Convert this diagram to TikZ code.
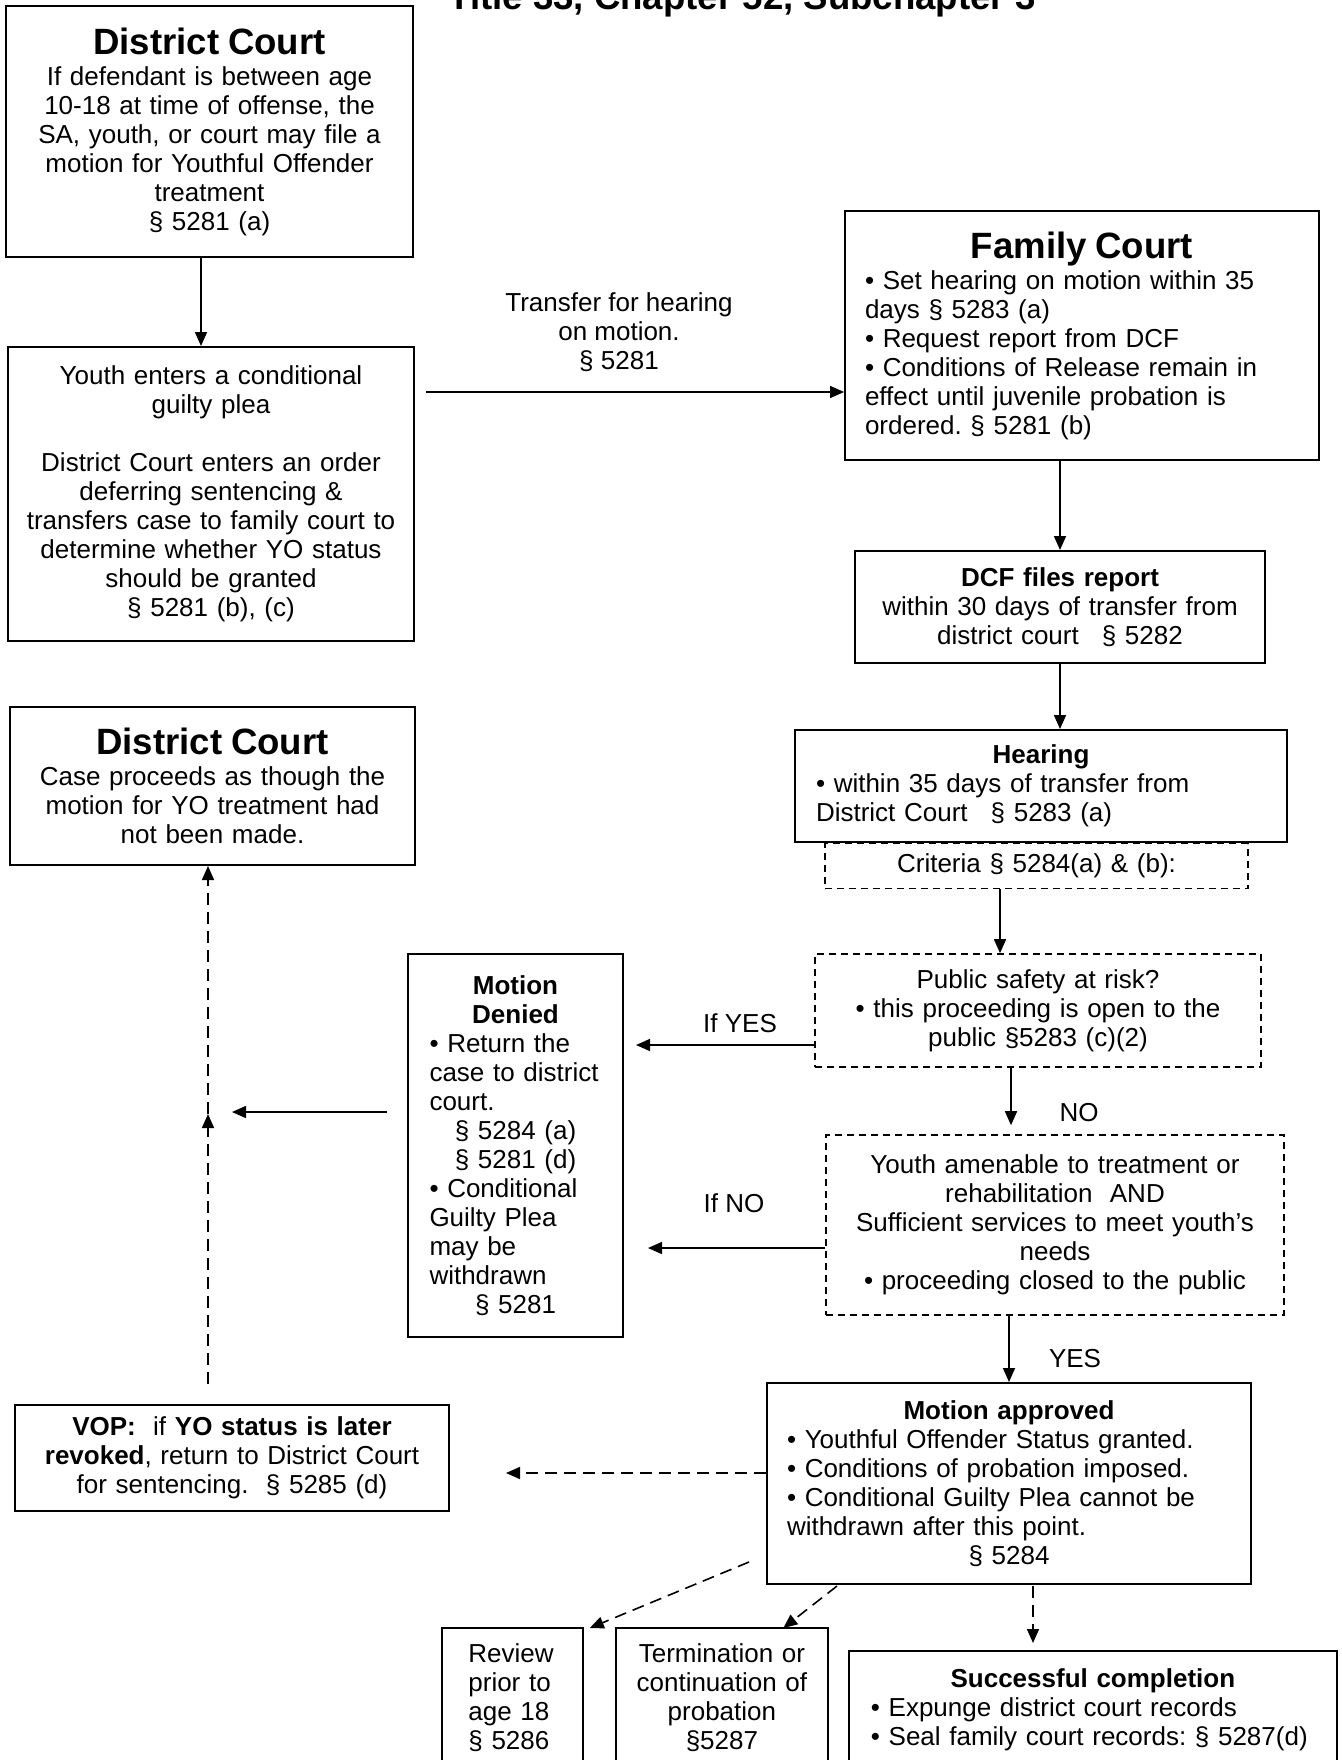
\documentclass[tikz,border=0pt]{standalone}
\usepackage{fontspec}
\setmainfont{Liberation Sans}
\usetikzlibrary{arrows.meta,calc}
\newcommand\bodyfont{\fontsize{13}{14.5}\selectfont}
\newcommand\headfont{\fontsize{18.3}{20}\selectfont\bfseries}
\newcommand\ctrline[1]{\makebox[\linewidth][c]{#1}}
\tikzset{
  box/.style={draw, line width=1pt, inner sep=0pt, align=center, font=\bodyfont},
  dbox/.style={box, line width=0.8pt, dash pattern=on 3.5pt off 2.5pt},
  open/.style={inner sep=0pt, font=\bodyfont},
  frame/.style={line width=1pt},
  lbl/.style={inner sep=0pt, align=center, font=\bodyfont},
  arr/.style={-{Triangle[length=7pt,width=6pt]}, line width=0.8pt},
  darr/.style={arr, dash pattern=on 6pt off 3.5pt},
}
\begin{document}
\frenchspacing
% pixel grid: x to the right, y downward
\begin{tikzpicture}[x=0.5pt,y=-0.5pt]
\useasboundingbox (0,0) rectangle (1341,1760);

\node[font=\headfont, anchor=base, inner sep=0pt] (title) at (742,10) {Title 33, Chapter 52, Subchapter 3};

% ---------- left column ----------
\node[box, minimum width=203.5pt, minimum height=125.5pt, text width=195pt] (dc1) at (209.5,131.5)
  {{\headfont District Court}\\[1pt]If defendant is between age\\10-18 at time of offense, the\\SA, youth, or court may file a\\motion for Youthful Offender\\treatment\\§ 5281 (a)};

\node[box, minimum width=203pt, minimum height=147pt, text width=197pt] (youth) at (211,494)
  {Youth enters a conditional\\guilty plea\\[14.5pt]District Court enters an order\\deferring sentencing \&\\transfers case to family court to\\determine whether YO status\\should be granted\\§ 5281 (b), (c)};

\node[box, minimum width=202.5pt, minimum height=79pt, text width=195pt] (dc2) at (212.5,786)
  {{\headfont District Court}\\[1pt]Case proceeds as though the\\motion for YO treatment had\\not been made.};

\node[box, minimum width=217pt, minimum height=53pt, text width=210pt] (vop) at (232,1458)
  {\textbf{VOP:}\ \ if \textbf{YO status is later}\\\textbf{revoked}, return to District Court\\for sentencing.\ \ § 5285 (d)};

\node[box, align=left, minimum width=107.5pt, minimum height=191.5pt, text width=86pt, inner xsep=10.75pt] (den) at (515.5,1145.5)
  {\ctrline{\textbf{Motion}}\\\ctrline{\textbf{Denied}}\\• Return the\\case to district\\court.\\\ctrline{§ 5284 (a)}\\\ctrline{§ 5281 (d)}\\• Conditional\\Guilty Plea\\may be\\withdrawn\\\ctrline{§ 5281}};

% ---------- right column ----------
\node[box, align=left, minimum width=237pt, minimum height=124.5pt, text width=217pt, inner xsep=10pt] (fam) at (1082,335.5)
  {\ctrline{\headfont Family Court}\\[1pt]• Set hearing on motion within 35\\days § 5283 (a)\\• Request report from DCF\\• Conditions of Release remain in\\effect until juvenile probation is\\ordered. § 5281 (b)};

\node[box, minimum width=205pt, minimum height=56pt, text width=195pt] (dcf) at (1060,607)
  {\textbf{DCF files report}\\within 30 days of transfer from\\district court\hspace{11.5pt}§ 5282};

\node[box, align=left, minimum width=246pt, minimum height=56pt, text width=225pt, inner xsep=10.5pt] (hear) at (1041,786)
  {\ctrline{\textbf{Hearing}}\\• within 35 days of transfer from\\District Court\hspace{11.5pt}§ 5283 (a)};

\node[dbox, minimum width=211.5pt, minimum height=22.5pt, text width=205pt] (crit) at (1036.5,866)
  {Criteria § 5284(a) \& (b):};

\node[dbox, minimum width=223pt, minimum height=56.5pt, text width=215pt] (pub) at (1038,1010.5)
  {Public safety at risk?\\• this proceeding is open to the\\public §5283 (c)(2)};

\node[dbox, minimum width=229pt, minimum height=90pt, text width=220pt] (amen) at (1055,1225)
  {Youth amenable to treatment or\\rehabilitation\ \ AND\\Sufficient services to meet youth's\\needs\\• proceeding closed to the public};

\node[box, align=left, minimum width=242pt, minimum height=100.5pt, text width=222pt, inner xsep=10pt] (appr) at (1009,1483.5)
  {\ctrline{\textbf{Motion approved}}\\• Youthful Offender Status granted.\\• Conditions of probation imposed.\\• Conditional Guilty Plea cannot be\\withdrawn after this point.\\\ctrline{§ 5284}};

% ---------- bottom row (boxes run on below the page) ----------
\node[open, anchor=north west, align=left, text width=44pt, inner xsep=13pt, inner ysep=7.5pt] (rev) at (442,1628)
  {Review\\prior to\\age 18\\§ 5286};
\node[open, anchor=north west, align=center, text width=95pt, inner xsep=5.25pt, inner ysep=7.5pt] (term) at (616,1628)
  {Termination or\\continuation of\\probation\\§5287};
\node[open, anchor=north west, align=left, text width=222pt, inner xsep=10.75pt, inner ysep=8.5pt] (succ) at (849,1651)
  {\ctrline{\textbf{Successful completion}}\\• Expunge district court records\\• Seal family court records: § 5287(d)};
\foreach \n in {rev,term,succ}
  \draw[frame] (\n.north west) ++(0,200) -- (\n.north west) -- (\n.north east) -- ++(0,200);

% ---------- connectors ----------
\coordinate (d1) at ([xshift=-4.25pt]dc1.south);
\draw[arr] (d1) -- (d1 |- youth.north);

\coordinate (t0) at (426,392);
\draw[arr] (t0) -- (t0 -| fam.west);
\node[lbl] (tlab) at (619,332) {Transfer for hearing\\on motion.\\§ 5281};

\draw[arr] (fam.south -| dcf.north) -- (dcf.north);
\draw[arr] (dcf.south) -- (dcf.south |- hear.north);

\coordinate (x1000) at (1000,0);
\coordinate (x1011) at (1011,0);
\draw[arr] (crit.south -| x1000) -- (pub.north -| x1000);
\draw[arr, shorten >=4.5pt] (pub.south -| x1011) -- (amen.north -| x1011);
\node[lbl] (nolab) at (1079,1113) {NO};
\draw[arr] (amen.south -| appr.north) -- (appr.north);
\node[lbl] (yeslab) at (1075,1359) {YES};

\coordinate (y1045) at (0,1045);
\coordinate (y1248) at (0,1248);
\coordinate (y1112) at (0,1112);
\coordinate (y1473) at (0,1473);
\draw[arr, shorten >=6pt] (pub.west |- y1045) -- (den.east |- y1045);
\node[lbl] (ifyes) at (740,1023) {If YES};
\draw[arr, shorten >=12pt] (amen.west |- y1248) -- (den.east |- y1248);
\node[lbl] (ifno) at (734,1203) {If NO};

\coordinate (jn) at (208,1114);
\coordinate (vb) at (208,1384);
\draw[arr, shorten <=10pt, shorten >=12pt] (den.west |- y1112) -- (jn |- y1112);
\draw[darr] (vb) -- (jn);
\draw[darr] (jn) -- (jn |- dc2.south);

\draw[darr, shorten >=28pt] (appr.west |- y1473) -- (vop.east |- y1473);

\coordinate (s1) at (749,1562);
\coordinate (s2) at (837,1586);
\coordinate (s3) at (1033,1586);
\draw[darr] (s1) -- ([xshift=3.5pt]rev.north east);
\draw[darr] (s2) -- ($(term.north west)!0.79!(term.north east)$);
\draw[darr, shorten >=4pt] (s3) -- (s3 |- succ.north);
\end{tikzpicture}
\end{document}
